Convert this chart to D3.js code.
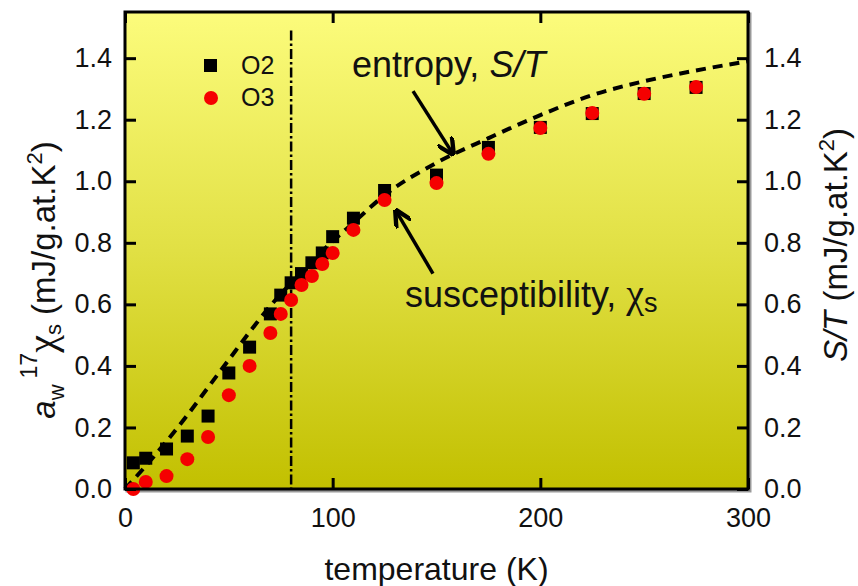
<!DOCTYPE html>
<html>
<head>
<meta charset="utf-8">
<script src="https://cdn.jsdelivr.net/npm/d3@7"></script>
<style>
body { margin:0; background:#fff; }
</style>
</head>
<body>
<script>
// data
var temperature = [4,10,20,30,40,50,60,70,75,80,85,90,95,100,110,125,150,175,200,225,250,275];
var o2 = [0.085,0.10,0.13,0.172,0.237,0.377,0.461,0.569,0.63,0.67,0.70,0.735,0.767,0.82,0.88,0.97,1.02,1.11,1.175,1.22,1.285,1.305];
var o3 = [0.0,0.023,0.042,0.097,0.169,0.305,0.40,0.507,0.569,0.614,0.663,0.692,0.731,0.767,0.842,0.939,0.994,1.089,1.173,1.222,1.284,1.306];
var entropyT = [0,10,20,30,40,50,60,70,80,90,100,110,125,150,175,200,225,250,275,300];
var entropy = [0,0.075,0.155,0.24,0.33,0.42,0.51,0.595,0.67,0.74,0.805,0.865,0.955,1.06,1.14,1.215,1.28,1.325,1.36,1.39];
var yTicks = [0,0.2,0.4,0.6,0.8,1.0,1.2,1.4];
var xTicks = [0,100,200,300];
var markerT = 80;

var W = 858, H = 586;
var m = {left:125, right:110, top:12, bottom:97};
var sans = "Arial, Liberation Sans, sans-serif";
var serif = "Liberation Serif, Times New Roman, serif";

var x = d3.scaleLinear().domain([0,300]).range([m.left, W-m.right]);
var y = d3.scaleLinear().domain([0,1.55]).range([H-m.bottom, m.top]);

var svg = d3.select("body").append("svg").attr("width",W).attr("height",H)
	.attr("font-family",sans).attr("fill","#111");

var defs = svg.append("defs");
var grad = defs.append("linearGradient").attr("id","bg").attr("x1",0).attr("y1",0).attr("x2",0).attr("y2",1);
grad.append("stop").attr("offset","0%").attr("stop-color","#fcfc7c");
grad.append("stop").attr("offset","50%").attr("stop-color","#e1e044");
grad.append("stop").attr("offset","100%").attr("stop-color","#c2c000");

var pw = x(300)-x(0), ph = y(0)-y(1.55);

// shadow + background
svg.append("rect").attr("x",x(0)+2).attr("y",y(1.55)+2).attr("width",pw).attr("height",ph)
	.attr("fill","none").attr("stroke","#999").attr("stroke-width",3);
svg.append("rect").attr("x",x(0)).attr("y",y(1.55)).attr("width",pw).attr("height",ph)
	.attr("fill","url(#bg)");

// vertical marker line
svg.append("line")
	.attr("x1",x(markerT)).attr("x2",x(markerT))
	.attr("y1",y(1.49)).attr("y2",y(0))
	.attr("stroke","#000").attr("stroke-width",2.5)
	.attr("stroke-dasharray","10,3,2.5,3");

// entropy curve
var line = d3.line()
	.x(function(d,i){ return x(entropyT[i]); })
	.y(function(d){ return y(d); })
	.curve(d3.curveMonotoneX);
svg.append("path").datum(entropy)
	.attr("d",line)
	.attr("fill","none").attr("stroke","#000")
	.attr("stroke-width",4).attr("stroke-dasharray","10,7");

// O2 squares
var sq = 13;
svg.append("g").selectAll("rect").data(o2).enter().append("rect")
	.attr("x",function(d,i){ return x(temperature[i])-sq/2; })
	.attr("y",function(d){ return y(d)-sq/2; })
	.attr("width",sq).attr("height",sq)
	.attr("fill","#000");

// O3 circles
svg.append("g").selectAll("circle").data(o3).enter().append("circle")
	.attr("cx",function(d,i){ return x(temperature[i]); })
	.attr("cy",function(d){ return y(d); })
	.attr("r",7)
	.attr("fill","#f50000");

// frame
svg.append("rect").attr("x",x(0)).attr("y",y(1.55)).attr("width",pw).attr("height",ph)
	.attr("fill","none").attr("stroke","#000").attr("stroke-width",3);

// axes
var fmt = d3.format(".1f");
var gl = svg.append("g").attr("transform","translate("+x(0)+",0)")
	.call(d3.axisLeft(y).tickValues(yTicks).tickFormat(fmt).tickSizeInner(-11).tickSizeOuter(0).tickPadding(13));
var gr = svg.append("g").attr("transform","translate("+x(300)+",0)")
	.call(d3.axisRight(y).tickValues(yTicks).tickFormat(fmt).tickSizeInner(-11).tickSizeOuter(0).tickPadding(16));
var gb = svg.append("g").attr("transform","translate(0,"+y(0)+")")
	.call(d3.axisBottom(x).tickValues(xTicks).tickSizeInner(-11).tickSizeOuter(0).tickPadding(19));
var gt = svg.append("g").attr("transform","translate(0,"+y(1.55)+")")
	.call(d3.axisTop(x).tickValues(xTicks).tickFormat("").tickSizeInner(-11).tickSizeOuter(0));
[gl,gr,gb,gt].forEach(function(g){
	g.select(".domain").remove();
	g.selectAll(".tick line").attr("stroke","#000").attr("stroke-width",3);
	g.selectAll(".tick text").attr("font-size",27).attr("font-family",sans).attr("fill","#111");
});

// axis titles
svg.append("text").attr("x",(x(0)+x(300))/2).attr("y",580)
	.attr("text-anchor","middle").attr("font-size",32).text("temperature (K)");

var lt = svg.append("text").attr("transform","translate(55,280) rotate(-90)")
	.attr("text-anchor","middle").attr("font-size",33);
lt.append("tspan").attr("font-style","italic").text("a");
lt.append("tspan").attr("font-size",22).attr("dy",9).text("w");
lt.append("tspan").attr("font-size",23).attr("dy",-27).attr("dx",6).text("17");
lt.append("tspan").attr("font-family",serif).attr("font-size",40).attr("dy",18).text("χ");
lt.append("tspan").attr("font-size",22).attr("dy",6).text("s");
lt.append("tspan").attr("dy",-6).text(" (mJ/g.at.K");
lt.append("tspan").attr("font-size",22).attr("dy",-13).text("2");
lt.append("tspan").attr("dy",13).text(")");

var rt = svg.append("text").attr("transform","translate(847,245) rotate(-90)")
	.attr("text-anchor","middle").attr("font-size",33);
rt.append("tspan").attr("font-style","italic").text("S/T");
rt.append("tspan").text("  (mJ/g.at.K");
rt.append("tspan").attr("font-size",22).attr("dy",-13).text("2");
rt.append("tspan").attr("dy",13).text(")");

// legend
svg.append("rect").attr("x",204).attr("y",59).attr("width",13).attr("height",13).attr("fill","#000");
svg.append("circle").attr("cx",211).attr("cy",98).attr("r",7).attr("fill","#f50000");
svg.append("text").attr("x",241).attr("y",74).attr("font-size",25).text("O2");
svg.append("text").attr("x",241).attr("y",106).attr("font-size",25).text("O3");

// annotations
defs.append("marker").attr("id","arr").attr("viewBox","0 0 10 10").attr("refX",9).attr("refY",5)
	.attr("markerWidth",5).attr("markerHeight",5).attr("orient","auto")
	.append("path").attr("d","M0,0 L10,5 L0,10").attr("fill","none").attr("stroke","#000").attr("stroke-width",2.5);

var et = svg.append("text").attr("x",x(109.3)).attr("y",y(1.339)).attr("font-size",36);
et.append("tspan").text("entropy, ");
et.append("tspan").attr("font-style","italic").text("S/T");
svg.append("line").attr("x1",x(138.7)).attr("y1",y(1.293)).attr("x2",x(157.9)).attr("y2",y(1.089))
	.attr("stroke","#000").attr("stroke-width",3.5).attr("marker-end","url(#arr)");

var st = svg.append("text").attr("x",x(134.8)).attr("y",y(0.591)).attr("font-size",36);
st.append("tspan").text("susceptibility, ");
st.append("tspan").attr("font-family",serif).attr("font-size",40).text("χ");
st.append("tspan").attr("font-size",27).attr("dy",5).text("s");
svg.append("line").attr("x1",x(148.3)).attr("y1",y(0.70)).attr("x2",x(130.5)).attr("y2",y(0.904))
	.attr("stroke","#000").attr("stroke-width",3.5).attr("marker-end","url(#arr)");
</script>
</body>
</html>
